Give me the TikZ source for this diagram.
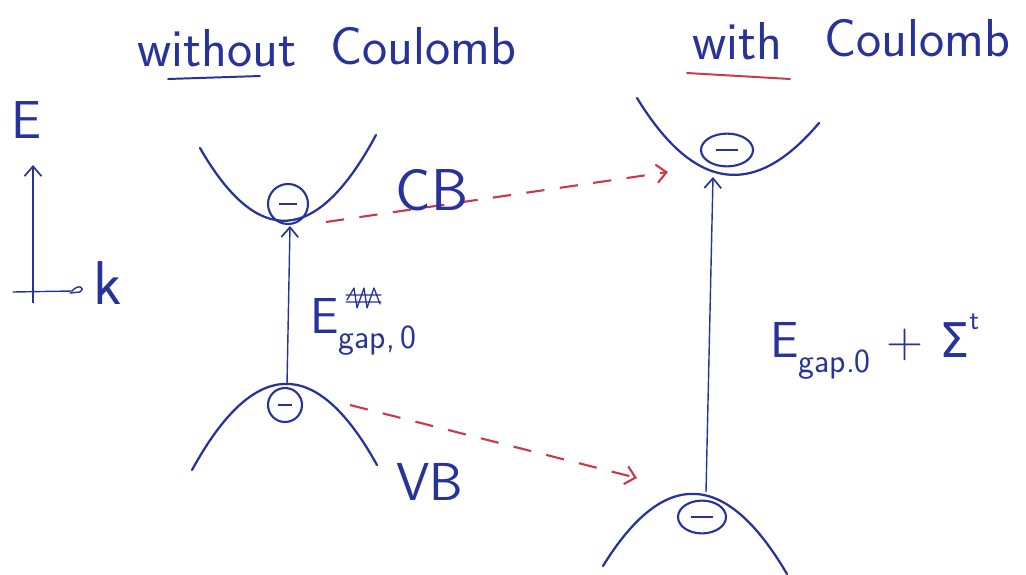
\documentclass[tikz,border=0pt]{standalone}
\usepackage{fontspec}
\newfontfamily\symfont{DejaVu Sans}
\usetikzlibrary{arrows.meta,shapes.geometric}
\definecolor{ink}{RGB}{40,50,155}
\definecolor{redink}{RGB}{205,55,75}
\newcommand{\fs}[1]{\fontsize{#1}{#1}\selectfont}
\tikzset{
  band/.style={draw=ink, line width=1.6pt, line cap=round},
  electron/.style={draw=ink, line width=1.5pt, circle, inner sep=0pt, text=ink},
  electronoval/.style={draw=ink, line width=1.5pt, ellipse, inner sep=0pt, text=ink},
  hand/.style={text=ink, inner sep=0pt, font=\sffamily\fs{38}},
  jump/.style={draw=ink, line width=1pt, -{Straight Barb[length=7pt,width=12pt,line width=1.2pt]}},
  redshift/.style={draw=redink, line width=1.5pt, dash pattern=on 13pt off 11pt, -{Straight Barb[length=7pt,width=13pt,line width=1.5pt]}},
  underl/.style={line width=1.4pt, line cap=round}
}
\begin{document}
\begin{tikzpicture}[x=0.025cm,y=-0.025cm]
\useasboundingbox (0,0) rectangle (1026,574);

% titles
\node[hand, anchor=base west] (t1a) at (137,66) {without};
\node[hand, anchor=base west] (t1b) at (330,64) {Coulomb};
\draw[underl, ink] (168,79) -- (260,76);
\node[hand, anchor=base west] (t2a) at (692,59) {with};
\node[hand, anchor=base west] (t2b) at (824,56) {Coulomb};
\draw[underl, redink] (687,73) -- (790,79);

% axes
\node[hand, font=\sffamily\fs{38}] (E) at (26,120) {E};
\coordinate (ax0) at (33,303);
\coordinate (axtop) at (33,165);
\draw[jump] (ax0) -- (axtop);
\coordinate (hx0) at (13,292);
\coordinate (hx1) at (72,291);
\draw[ink, line width=1pt, line cap=round] (hx0) -- (hx1) .. controls (78,284) and (86,287) .. (80,292) -- (70,293);
\node[hand, font=\sffamily\fs{44}, anchor=base] (k) at (108,304) {k};

% left bands
\coordinate (lcb1) at (200,148);
\coordinate (lcb2) at (376,135);
\draw[band] (lcb1) .. controls (258,249) and (317,245) .. (lcb2);
\coordinate (lvb1) at (192,470);
\coordinate (lvb2) at (377,465);
\draw[band] (lvb1) .. controls (254,357) and (316,355) .. (lvb2);

\node[electron, minimum size=1cm] (e1) at (288,204) {\rule{0.45cm}{1.6pt}};
\node[electron, minimum size=0.85cm] (e2) at (285,405) {\rule{0.35cm}{1.6pt}};

\coordinate (lvbtop) at (287,385);
\coordinate (lcbbot) at (290,226);
\draw[jump] (lvbtop) -- (lcbbot);

% right bands
\coordinate (rcb1) at (637,98);
\coordinate (rcb2) at (819,123);
\draw[band] (rcb1) .. controls (694,191) and (754,200) .. (rcb2);
\coordinate (rvb1) at (603,566);
\coordinate (rvb2) at (787,574);
\draw[band] (rvb1) .. controls (664,467) and (726,470) .. (rvb2);

\node[electronoval, minimum width=1.3cm, minimum height=0.82cm] (e3) at (727,150) {\rule{0.55cm}{1.6pt}};
\node[electronoval, minimum width=1.2cm, minimum height=0.82cm] (e4) at (702,517) {\rule{0.55cm}{1.6pt}};

\coordinate (rvbtop) at (706,492);
\coordinate (rcbbot) at (713,177);
\draw[jump] (rvbtop) -- (rcbbot);

% red shifts
\coordinate (s1a) at (326,222);
\coordinate (s1b) at (668,172);
\draw[redshift] (s1a) -- (s1b);
\coordinate (s2a) at (350,405);
\coordinate (s2b) at (637,478);
\draw[redshift] (s2a) -- (s2b);

% band labels
\node[hand, font=\sffamily\fs{42}] (cb) at (432,190) {CB};
\node[hand, font=\sffamily\fs{38}] (vb) at (430,482) {VB};

% gap labels
\node[hand, font=\sffamily\fs{36}, anchor=base west] (g1) at (310,333) {E\raisebox{-0.3em}{\fs{24}gap,\,0}};
\draw[ink, line width=0.9pt, line cap=round, line join=round]
  (347,300) -- (354,288) -- (357,308) -- (364,288) -- (367,308) -- (374,288) -- (380,304)
  (346,295) -- (381,295) (346,302) -- (381,302);
\node[hand, font=\sffamily\fs{36}, anchor=base west] (g2) at (770,357) {E\raisebox{-0.3em}{\fs{24}gap.0}\ +\ {\symfont\fs{34}Σ}\raisebox{0.55em}{\fs{20}t}};

\end{tikzpicture}
\end{document}
